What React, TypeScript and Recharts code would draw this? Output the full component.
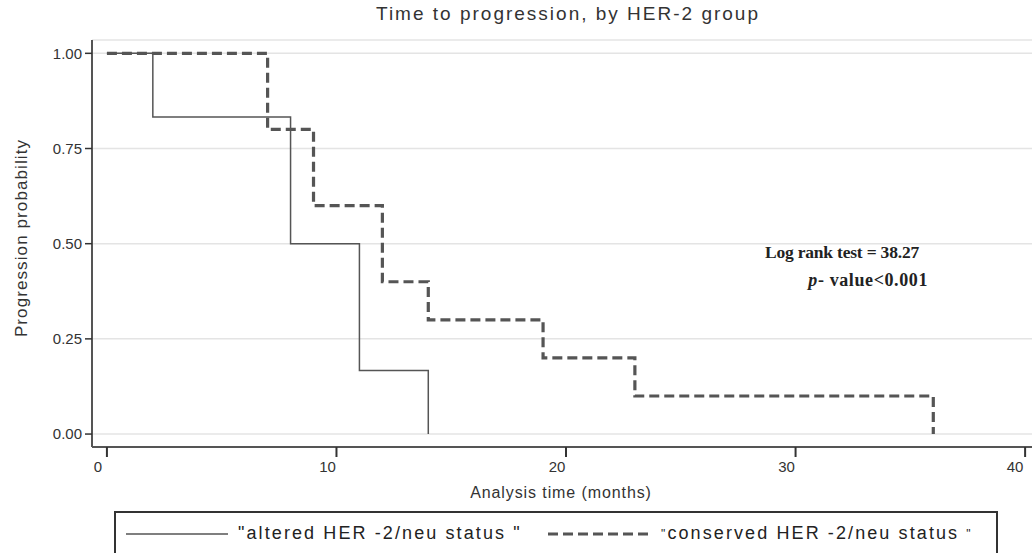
import React from 'react';
import { LineChart, Line, XAxis, YAxis, CartesianGrid } from 'recharts';

// Kaplan-Meier steps
const alteredTimes = [0, 2, 8, 11, 14];
const alteredProb = [1, 0.833, 0.5, 0.167, 0];
const conservedTimes = [0, 7, 9, 12, 14, 19, 23, 36];
const conservedProb = [1, 0.8, 0.6, 0.4, 0.3, 0.2, 0.1, 0];

const xTicks = [0, 10, 20, 30, 40];
const yTicks = [0, 0.25, 0.5, 0.75, 1];

const altered = alteredTimes.map((t, i) => ({ t, p: alteredProb[i] }));
const conserved = conservedTimes.map((t, i) => ({ t, p: conservedProb[i] }));

const sans = '"Liberation Sans", Arial, sans-serif';
const serif = '"Liberation Serif", "Times New Roman", serif';
const ink = '#555';

const XTick = (props: any) => {
  const { x, y, payload } = props;
  return (
    <text x={x - 9} y={y + 13} textAnchor="middle" fontSize={15} fontFamily={sans} fill="#333">
      {payload.value}
    </text>
  );
};

const smallQuote = { fontSize: 12, verticalAlign: 'middle', color: '#222' } as const;

export default function App() {
  return (
    <div style={{ position: 'absolute', left: 0, top: 0, width: 1032, height: 553, background: '#fff', overflow: 'hidden' }}>
      <div style={{ position: 'absolute', left: 0, width: 1136, top: 3, textAlign: 'center', fontFamily: sans, fontSize: 19, letterSpacing: 2, color: '#333' }}>
        Time to progression, by HER-2 group
      </div>

      <LineChart width={1032} height={553} data={altered} margin={{ top: 40, right: 0, left: 0, bottom: 76 }}>
        <CartesianGrid vertical={false} stroke="#e4e4e4" strokeWidth={1.5} />
        <XAxis
          dataKey="t"
          type="number"
          domain={[-0.65, 40.3]}
          ticks={xTicks}
          allowDataOverflow
          height={30}
          tickSize={10}
          stroke={ink}
          strokeWidth={2}
          tickLine={{ stroke: '#333', strokeWidth: 2 }}
          tick={<XTick />}
        />
        <YAxis
          type="number"
          domain={[-0.034, 1.035]}
          ticks={yTicks}
          allowDataOverflow
          width={92}
          tickSize={7}
          tickMargin={3}
          stroke={ink}
          strokeWidth={2}
          tickLine={{ stroke: '#333', strokeWidth: 1.5 }}
          tick={{ fontSize: 15, fontFamily: sans, fill: '#333' }}
          tickFormatter={(v: number) => v.toFixed(2)}
        />
        <Line
          data={altered}
          dataKey="p"
          type="stepAfter"
          stroke={ink}
          strokeWidth={1.5}
          dot={false}
          isAnimationActive={false}
        />
        <Line
          data={conserved}
          dataKey="p"
          type="stepAfter"
          stroke={ink}
          strokeWidth={3.2}
          strokeDasharray="10 5"
          dot={false}
          isAnimationActive={false}
        />
      </LineChart>

      <div style={{ position: 'absolute', left: 22, top: 238, transform: 'translate(-50%, -50%) rotate(-90deg)', whiteSpace: 'nowrap', fontFamily: sans, fontSize: 17, letterSpacing: 1.1, color: '#333' }}>
        Progression probability
      </div>

      <div style={{ position: 'absolute', left: 0, width: 1122, top: 484, textAlign: 'center', fontFamily: sans, fontSize: 16, letterSpacing: 0.9, color: '#333' }}>
        Analysis time (months)
      </div>

      <div style={{ position: 'absolute', right: 113, top: 242, fontFamily: serif, fontWeight: 'bold', fontSize: 17.5, letterSpacing: -0.2, color: '#222', whiteSpace: 'nowrap' }}>
        Log rank test = 38.27
      </div>
      <div style={{ position: 'absolute', right: 104, top: 270, fontFamily: serif, fontWeight: 'bold', fontSize: 18, letterSpacing: 0.6, color: '#222', whiteSpace: 'nowrap' }}>
        <i>p</i>- value&lt;0.001
      </div>

      <div style={{ position: 'absolute', left: 114, top: 511, width: 884, height: 60, border: '2px solid #333', boxSizing: 'border-box', fontFamily: sans, fontSize: 18, color: '#222' }}>
        <svg width={102} height={6} style={{ position: 'absolute', left: 10, top: 18 }}>
          <line x1={0} y1={3} x2={102} y2={3} stroke={ink} strokeWidth={1.5} />
        </svg>
        <div style={{ position: 'absolute', left: 122, top: 10, whiteSpace: 'nowrap', letterSpacing: 2.1 }}>
          "altered HER -2/neu status "
        </div>
        <svg width={100} height={6} style={{ position: 'absolute', left: 432, top: 18 }}>
          <line x1={0} y1={3} x2={100} y2={3} stroke={ink} strokeWidth={3.2} strokeDasharray="10 5" />
        </svg>
        <div style={{ position: 'absolute', left: 545, top: 10, whiteSpace: 'nowrap', letterSpacing: 2.1 }}>
          <span style={smallQuote}>"</span>conserved HER -2/neu status <span style={smallQuote}>"</span>
        </div>
      </div>
    </div>
  );
}
